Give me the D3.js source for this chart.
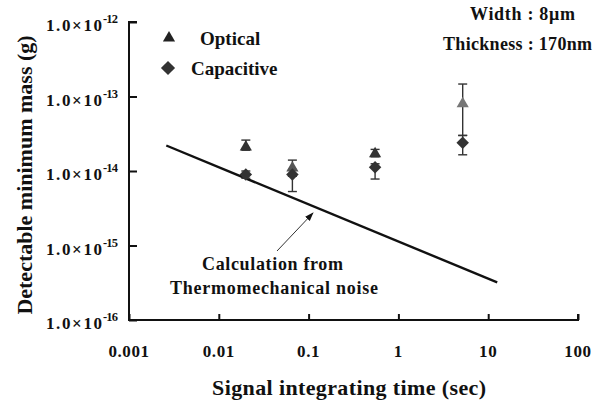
<!DOCTYPE html>
<html>
<head>
<meta charset="utf-8">
<script src="https://cdn.jsdelivr.net/npm/d3@7"></script>
<style>
  body { margin: 0; background: #fff; }
  text { font-family: "Liberation Serif", "Times New Roman", serif; font-weight: bold; fill: #111; }
</style>
</head>
<body>
<svg id="chart" width="594" height="401"></svg>
<script>
// data
const xTicks = [0.001, 0.01, 0.1, 1, 10, 100];
const xTickLabels = ["0.001", "0.01", "0.1", "1", "10", "100"];
const yTicks = [1e-16, 1e-15, 1e-14, 1e-13, 1e-12];
const yTickExps = ["-16", "-15", "-14", "-13", "-12"];

const opticalTime = [0.02, 0.066, 0.55, 5.2];
const opticalMass = [2.1e-14, 1.1e-14, 1.7e-14, 8.0e-14];
const opticalHi = [2.6e-14, 1.4e-14, 1.95e-14, 1.47e-13];
const opticalLo = [1.9e-14, 8.5e-15, 1.55e-14, 3.0e-14];

const capTime = [0.02, 0.066, 0.55, 5.2];
const capMass = [9.0e-15, 9.0e-15, 1.12e-14, 2.4e-14];
const capHi = [1.0e-14, 1.05e-14, 1.25e-14, 3.0e-14];
const capLo = [8.0e-15, 5.3e-15, 7.8e-15, 1.65e-14];

const calcTime = [0.0026, 12.6];
const calcMass = [2.2e-14, 3.2e-16];

const svg = d3.select("#chart");
const mLeft = 129, mRight = 578, mTop = 22, mBottom = 320;

const x = d3.scaleLog().domain([0.001, 100]).range([mLeft, mRight]);
const y = d3.scaleLog().domain([1e-16, 1e-12]).range([mBottom, mTop]);

// axes, ticks pointing inward
const xAxis = d3.axisBottom(x).tickValues(xTicks).tickSize(-6).tickFormat("");
svg.append("g").attr("transform", `translate(0,${mBottom})`).call(xAxis)
  .call(g => g.selectAll("path, line").attr("stroke", "#111").attr("stroke-width", 2))
  .call(g => g.select(".domain").attr("d", `M${mLeft},-6V0H${mRight}V-6`));

const yAxis = d3.axisLeft(y).tickValues(yTicks).tickSize(-8).tickFormat("");
svg.append("g").attr("transform", `translate(${mLeft},0)`).call(yAxis)
  .call(g => g.selectAll("path, line").attr("stroke", "#111").attr("stroke-width", 2))
  .call(g => g.select(".domain").attr("d", `M8,${mTop}H0V${mBottom}H8`));

// tick labels
svg.selectAll(".xlab").data(xTicks).enter().append("text")
  .attr("x", d => x(d)).attr("y", 357)
  .attr("text-anchor", "middle").attr("font-size", 17).attr("letter-spacing", 0.6)
  .text((d, i) => xTickLabels[i]);

svg.selectAll(".ylab").data(yTicks).enter().append("text")
  .attr("x", 46).attr("y", d => y(d) + 9)
  .attr("font-size", 17).attr("textLength", 56).attr("lengthAdjust", "spacing")
  .text("1.0×10");
svg.selectAll(".yexp").data(yTicks).enter().append("text")
  .attr("x", 103).attr("y", d => y(d) + 1)
  .attr("font-size", 12.5).attr("textLength", 15).attr("lengthAdjust", "spacing")
  .text((d, i) => yTickExps[i]);

// axis titles
svg.append("text").attr("x", 349).attr("y", 395).attr("text-anchor", "middle")
  .attr("font-size", 22).attr("textLength", 274).attr("lengthAdjust", "spacing")
  .text("Signal integrating time (sec)");
svg.append("text").attr("transform", "translate(32,175) rotate(-90)")
  .attr("text-anchor", "middle").attr("font-size", 22).text("Detectable minimum mass (g)");

// calculation line
svg.append("path")
  .attr("d", d3.line().x(d => x(d[0])).y(d => y(d[1]))(calcTime.map((t, i) => [t, calcMass[i]])))
  .attr("stroke", "#111").attr("stroke-width", 2.4).attr("fill", "none");

// error bars
function errorBars(ts, lo, hi) {
  const g = svg.append("g").attr("stroke", "#333").attr("stroke-width", 1.4);
  ts.forEach((t, i) => {
    const cx = x(t);
    g.append("line").attr("x1", cx).attr("x2", cx).attr("y1", y(lo[i])).attr("y2", y(hi[i]));
    g.append("line").attr("x1", cx - 4.5).attr("x2", cx + 4.5).attr("y1", y(lo[i])).attr("y2", y(lo[i]));
    g.append("line").attr("x1", cx - 4.5).attr("x2", cx + 4.5).attr("y1", y(hi[i])).attr("y2", y(hi[i]));
  });
}
errorBars(opticalTime, opticalLo, opticalHi);
errorBars(capTime, capLo, capHi);

const tri = d3.symbol().type(d3.symbolTriangle).size(64);
const dia = d3.symbol().type(d3.symbolSquare).size(78);
const diaLegend = d3.symbol().type(d3.symbolSquare).size(100);

svg.selectAll(".opt").data(opticalTime).enter().append("path")
  .attr("d", tri).attr("fill", (d, i) => i === 3 ? "#777" : (i === 1 ? "#555" : "#333"))
  .attr("transform", (d, i) => `translate(${x(d)},${y(opticalMass[i])})`);
svg.selectAll(".cap").data(capTime).enter().append("path")
  .attr("d", dia).attr("fill", "#333")
  .attr("transform", (d, i) => `translate(${x(d)},${y(capMass[i])}) rotate(45)`);

// legend
svg.append("path").attr("d", tri).attr("fill", "#222").attr("transform", "translate(169,38)");
svg.append("text").attr("x", 200).attr("y", 45).attr("font-size", 19).text("Optical");
svg.append("path").attr("d", diaLegend).attr("fill", "#333").attr("transform", "translate(168,68) rotate(45)");
svg.append("text").attr("x", 191).attr("y", 75).attr("font-size", 19).text("Capacitive");

// dimensions note
svg.append("text").attr("x", 470).attr("y", 20).attr("font-size", 18)
  .attr("textLength", 105).attr("lengthAdjust", "spacing").text("Width : 8μm");
svg.append("text").attr("x", 443).attr("y", 50).attr("font-size", 18)
  .attr("textLength", 149).attr("lengthAdjust", "spacing").text("Thickness : 170nm");

// annotation
svg.append("text").attr("x", 202).attr("y", 270).attr("font-size", 18)
  .attr("textLength", 141).attr("lengthAdjust", "spacing").text("Calculation from");
svg.append("text").attr("x", 170).attr("y", 294).attr("font-size", 18)
  .attr("textLength", 208).attr("lengthAdjust", "spacing").text("Thermomechanical noise");

svg.append("defs").append("marker").attr("id", "arr")
  .attr("viewBox", "0 0 10 10").attr("refX", 9).attr("refY", 5)
  .attr("markerWidth", 9).attr("markerHeight", 9).attr("orient", "auto")
  .append("path").attr("d", "M0,1.5L10,5L0,8.5Z").attr("fill", "#111");
svg.append("line").attr("x1", 277).attr("y1", 251).attr("x2", 313).attr("y2", 213)
  .attr("stroke", "#333").attr("stroke-width", 1).attr("marker-end", "url(#arr)");
</script>
</body>
</html>
